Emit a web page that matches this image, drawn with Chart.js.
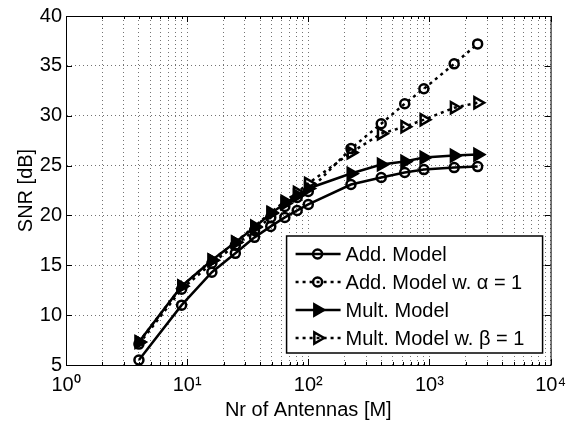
<!DOCTYPE html>
<html>
<head>
<meta charset="utf-8">
<script src="https://cdn.jsdelivr.net/npm/chart.js@4.4.0/dist/chart.umd.min.js"></script>
<style>
    html, body { margin: 0; padding: 0; background: #fff; }
    #contenedor { width: 574px; height: 426px; }
</style>
</head>
<body>
<div id="contenedor"><canvas id="graficoSNR" width="574" height="426"></canvas></div>
<script>
// =====================================
// DATOS
// =====================================

const antenas = [4, 9, 16, 25, 36, 49, 64, 81, 100, 225, 400, 625, 900, 1600, 2500];

const snrAditivo      = [5.5, 11.0, 14.3, 16.2, 17.8, 18.9, 19.8, 20.5, 21.1, 23.1, 23.8, 24.3, 24.6, 24.8, 24.9];
const snrAditivoIdeal = [7.1, 12.6, 15.2, 17.0, 18.5, 19.8, 20.9, 21.8, 22.4, 26.7, 29.2, 31.2, 32.7, 35.2, 37.2];
const snrMult         = [7.3, 12.9, 15.5, 17.3, 18.8, 20.2, 21.2, 22.0, 22.7, 24.2, 25.1, 25.4, 25.8, 26.0, 26.1];
const snrMultIdeal    = [7.3, 12.9, 15.5, 17.3, 18.9, 20.3, 21.4, 22.3, 23.2, 26.3, 28.2, 28.9, 29.6, 30.8, 31.3];

const etiquetas = [
    "Add. Model",
    "Add. Model w. \u03b1 = 1",
    "Mult. Model",
    "Mult. Model w. \u03b2 = 1"
];

const decadas = [1, 10, 100, 1000, 10000];
const superindices = ["\u2070", "\u00b9", "\u00b2", "\u00b3", "\u2074"];
const ticksY = [5, 10, 15, 20, 25, 30, 35, 40];

const FUENTE = "'Liberation Sans', Arial, Helvetica, sans-serif";

function puntos(valores) {
    return antenas.map((m, i) => ({ x: m, y: valores[i] }));
}

// =====================================
// PLUGIN: CAJA, TICKS INTERIORES Y LEYENDA
// =====================================

const pluginMarco = {
    id: "marco",
    afterDatasetsDraw(chart) {
        const ctx = chart.ctx;
        const a = chart.chartArea;
        const sx = chart.scales.x;
        const sy = chart.scales.y;

        ctx.save();
        ctx.strokeStyle = "#000";
        ctx.lineWidth = 1;
        ctx.setLineDash([]);

        // ticks hacia dentro
        ctx.beginPath();
        sx.ticks.forEach(t => {
            const px = Math.round(sx.getPixelForValue(t.value)) + 0.5;
            const largo = decadas.includes(t.value) ? 6 : 3;
            ctx.moveTo(px, a.bottom); ctx.lineTo(px, a.bottom - largo);
            ctx.moveTo(px, a.top); ctx.lineTo(px, a.top + largo);
        });
        sy.ticks.forEach(t => {
            const py = Math.round(sy.getPixelForValue(t.value)) + 0.5;
            ctx.moveTo(a.left, py); ctx.lineTo(a.left + 6, py);
            ctx.moveTo(a.right, py); ctx.lineTo(a.right - 6, py);
        });
        ctx.stroke();

        ctx.strokeRect(a.left + 0.5, a.top + 0.5, a.right - a.left, a.bottom - a.top);

        // leyenda
        const ancho = 256, alto = 117;
        const lx = a.right - 8 - ancho;
        const ly = a.bottom - 12 - alto;
        ctx.fillStyle = "#fff";
        ctx.fillRect(lx, ly, ancho, alto);
        ctx.lineWidth = 1.5;
        ctx.strokeRect(lx, ly, ancho, alto);

        ctx.font = "20px " + FUENTE;
        ctx.textBaseline = "middle";
        ctx.textAlign = "left";

        chart.data.datasets.forEach((ds, i) => {
            const y = ly + 18 + i * 28;
            ctx.strokeStyle = "#000";
            ctx.lineWidth = ds.borderWidth;
            ctx.setLineDash(ds.borderDash || []);
            ctx.beginPath();
            ctx.moveTo(lx + 9, y);
            ctx.lineTo(lx + 54, y);
            ctx.stroke();
            ctx.setLineDash([]);
            ctx.fillStyle = ds.pointBackgroundColor;
            ctx.lineWidth = ds.pointBorderWidth;
            Chart.helpers.drawPoint(ctx, {
                pointStyle: ds.pointStyle,
                rotation: ds.pointRotation || 0,
                radius: ds.pointRadius,
                borderWidth: ds.pointBorderWidth
            }, lx + 31, y);
            ctx.fillStyle = "#000";
            ctx.fillText(ds.label, lx + 59, y + 1);
        });

        ctx.restore();
    }
};

// =====================================
// GRAFICO
// =====================================

function serie(label, valores, punteada, estilo) {
    const triangulo = estilo === "triangle";
    return {
        label,
        data: puntos(valores),
        borderColor: "#000",
        borderWidth: 2.5,
        borderDash: punteada ? [3, 4] : [],
        pointStyle: estilo,
        pointRotation: triangulo ? 90 : 0,
        pointRadius: triangulo ? 6.5 : 4.5,
        pointBorderWidth: 2.5,
        pointBorderColor: "#000",
        pointBackgroundColor: triangulo && !punteada ? "#000" : "rgba(0,0,0,0)",
        fill: false,
        tension: 0
    };
}

new Chart(document.getElementById("graficoSNR"), {
    type: "line",
    data: {
        datasets: [
            serie(etiquetas[0], snrAditivo, false, "circle"),
            serie(etiquetas[1], snrAditivoIdeal, true, "circle"),
            serie(etiquetas[2], snrMult, false, "triangle"),
            serie(etiquetas[3], snrMultIdeal, true, "triangle")
        ]
    },
    plugins: [pluginMarco],
    options: {
        responsive: false,
        animation: false,
        devicePixelRatio: 1,
        layout: { padding: { top: 14, right: 14, left: 0, bottom: 0 } },
        plugins: {
            legend: { display: false },
            tooltip: { enabled: false }
        },
        scales: {
            x: {
                type: "logarithmic",
                min: 1,
                max: 10000,
                afterBuildTicks: scale => {
                    const t = [];
                    decadas.forEach(d => {
                        for (let k = 1; k <= 9; k++) {
                            if (d * k <= 10000) t.push({ value: d * k });
                        }
                    });
                    scale.ticks = t;
                },
                afterFit: scale => { scale.height = 61; },
                ticks: {
                    autoSkip: false,
                    maxRotation: 0,
                    padding: 8,
                    color: "#000",
                    font: { family: FUENTE, size: 20 },
                    callback: v => {
                        const i = decadas.indexOf(v);
                        return i >= 0 ? "10" + superindices[i] : "";
                    }
                },
                grid: {
                    color: "rgba(0,0,0,0.55)",
                    lineWidth: 1,
                    drawTicks: false
                },
                border: { display: true, color: "#000", dash: [1, 3] },
                title: {
                    display: true,
                    text: "Nr of Antennas [M]",
                    color: "#000",
                    font: { family: FUENTE, size: 20 },
                    padding: { top: 0, bottom: 4 }
                }
            },
            y: {
                min: 5,
                max: 40,
                afterBuildTicks: scale => {
                    scale.ticks = ticksY.map(v => ({ value: v }));
                },
                afterFit: scale => { scale.width = 66; },
                ticks: {
                    padding: 4,
                    color: "#000",
                    font: { family: FUENTE, size: 20 }
                },
                grid: {
                    color: "rgba(0,0,0,0.55)",
                    lineWidth: 1,
                    drawTicks: false
                },
                border: { display: true, color: "#000", dash: [1, 3] },
                title: {
                    display: true,
                    text: "SNR [dB]",
                    color: "#000",
                    font: { family: FUENTE, size: 20 },
                    padding: { top: 14, bottom: 0 }
                }
            }
        }
    }
});
</script>
</body>
</html>
